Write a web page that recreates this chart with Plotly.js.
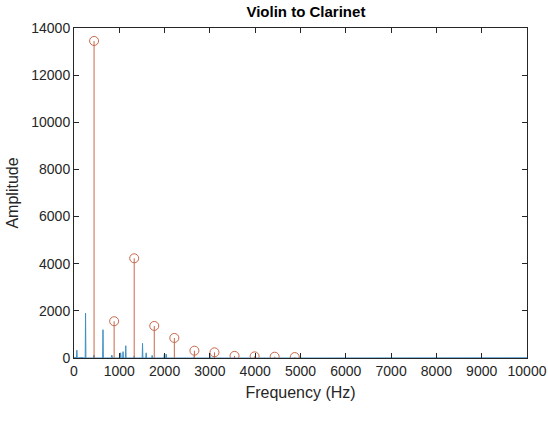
<!DOCTYPE html>
<html>
<head>
<meta charset="utf-8">
<script src="https://cdn.plot.ly/plotly-3.0.1.min.js"></script>
<style>html,body{margin:0;padding:0;background:#fff;}#chart{width:548px;height:430px;}</style>
</head>
<body>
<div id="chart"></div>
<script>
// Violin spectrum (blue line)
const violinFreq = [0, 20, 55, 63, 71, 150, 247, 255, 263, 430, 440, 450, 632, 640, 648, 820, 835, 850,
  1020, 1030, 1040, 1075, 1083, 1091, 1135, 1143, 1151, 1320, 1329, 1338, 1505, 1513, 1521, 1585, 1593, 1601,
  1717, 1725, 1733, 1985, 1995, 2005, 2025, 2035, 2045, 2640, 2650, 2660, 2990, 3000, 3010, 4990, 5000, 5010,
  7000, 10000];
const violinAmp = [0, 30, 0, 330, 0, 20, 0, 1900, 0, 0, 120, 0, 0, 1200, 0, 0, 120, 0,
  0, 220, 0, 0, 270, 0, 0, 520, 0, 0, 90, 0, 0, 620, 0, 0, 220, 0,
  0, 110, 0, 0, 160, 0, 0, 170, 0, 0, 60, 0, 0, 110, 0, 0, 40, 0,
  10, 10];

// Clarinet harmonic peaks (red stems with circles)
const clarinetFreq = [443, 886, 1329, 1772, 2215, 2658, 3101, 3544, 3987, 4430, 4873];
const clarinetAmp = [13450, 1560, 4230, 1360, 850, 310, 240, 90, 70, 55, 40];

const xTicks = [0, 1000, 2000, 3000, 4000, 5000, 6000, 7000, 8000, 9000, 10000];
const yTicks = [0, 2000, 4000, 6000, 8000, 10000, 12000, 14000];

const blue = '#3f8fc4';
const red = '#c8684a';

const stemX = [], stemY = [];
clarinetFreq.forEach((f, i) => { stemX.push(f, f, null); stemY.push(0, clarinetAmp[i], null); });

const traces = [
  {x: violinFreq, y: violinAmp, type: 'scatter', mode: 'lines', line: {color: blue, width: 1}, hoverinfo: 'skip'},
  {x: stemX, y: stemY, type: 'scatter', mode: 'lines', line: {color: red, width: 1}, hoverinfo: 'skip'},
  {x: clarinetFreq, y: clarinetAmp, type: 'scatter', mode: 'markers',
   marker: {symbol: 'circle-open', size: 9, color: red, line: {width: 1, color: red}}}
];

const fam = 'Liberation Sans, Arial, sans-serif';
const axisCommon = {
  showline: true, linecolor: '#262626', linewidth: 1, mirror: 'ticks',
  ticks: 'inside', ticklen: 5, tickwidth: 1, tickcolor: '#262626',
  showgrid: false, zeroline: false, ticklabeloverflow: 'allow',
  tickfont: {family: fam, size: 14, color: '#262626'}
};

const layout = {
  width: 548, height: 430,
  margin: {l: 74, r: 21, t: 28, b: 72},
  paper_bgcolor: '#fff', plot_bgcolor: '#fff',
  showlegend: false,
  title: {text: '<b>Violin to Clarinet</b>', xref: 'paper', x: 0.512, xanchor: 'center', y: 0.972, yanchor: 'middle',
    font: {family: fam, size: 15, color: '#000'}},
  xaxis: Object.assign({}, axisCommon, {
    range: [0, 10000], tickvals: xTicks, ticktext: xTicks.map(String),
    title: {text: 'Frequency (Hz)', standoff: 9, font: {family: fam, size: 16, color: '#262626'}}
  }),
  yaxis: Object.assign({}, axisCommon, {
    range: [0, 14000], tickvals: yTicks, ticktext: yTicks.map(String),
    title: {text: 'Amplitude', standoff: 8, font: {family: fam, size: 16, color: '#262626'}}
  })
};

Plotly.newPlot('chart', traces, layout, {staticPlot: true, displayModeBar: false});
</script>
</body>
</html>
